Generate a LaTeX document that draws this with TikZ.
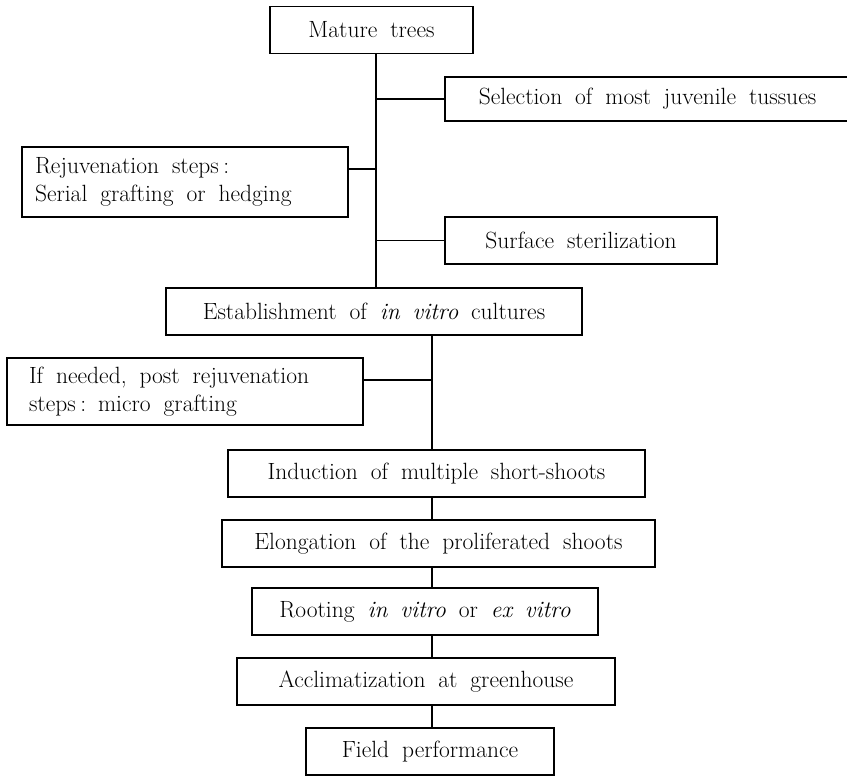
\documentclass[tikz,border=0pt]{standalone}
\usepackage{tikz}
\usetikzlibrary{calc, positioning}

\newcommand{\boxfont}{\fontsize{23.5}{28}\selectfont}
\newcommand{\widespace}{\spaceskip=0.55em plus 0.1em minus 0.05em\relax}

\begin{document}
\begin{tikzpicture}[x=1pt, y=-1pt, line width=1.2pt,
        box/.style={draw, rectangle, inner sep=0pt, minimum height=47pt, font=\boxfont, execute at begin node=\widespace},
        note/.style={box, align=left}]
    \useasboundingbox (0,0) rectangle (847,776);
    % upper part
    \node[box, minimum width=203pt] (mt) at (371.5, 30) {Mature trees};
    \node[box, minimum width=405pt, minimum height=44pt] (sel) at (647.5, 99) {Selection of most juvenile tussues};
    \node[note, text width=300pt, inner xsep=13pt, minimum height=70pt] (rej) at (185, 182) {Rejuvenation steps\hspace{0.2em}:\\Serial grafting or hedging};
    \node[box, minimum width=272pt] (sur) at (581, 240.5) {Surface sterilization};
    \node[box, minimum width=416pt] (est) at (374, 311.5) {Establishment of \textit{in vitro} cultures};
    % lower part
    \node[note, text width=312pt, inner xsep=22pt, minimum height=67pt] (ifn) at (185, 391.5) {If needed, post rejuvenation\\steps\hspace{0.2em}: micro grafting};
    \node[box, minimum width=417pt] (ind) at (436.5, 473.5) {Induction of multiple short-shoots};
    \node[box, minimum width=433pt] (elo) at (438.5, 543.5) {Elongation of the proliferated shoots};
    \node[box, minimum width=346pt] (roo) at (425, 611.5) {Rooting \textit{in vitro} or \textit{ex vitro}};
    \node[box, minimum width=378pt] (acc) at (426, 681.5) {Acclimatization at greenhouse};
    \node[box, minimum width=248pt] (fld) at (430, 751.5) {Field performance};
    \coordinate (t1) at (376, 0);
    \coordinate (t2) at (432, 0);
    \coordinate (j1) at (376, 169);
    \coordinate (j2) at (432, 380);
    \draw
    (mt.south -| t1) -- (est.north -| t1)
    (sel.west) -- (sel.west -| t1)
    (rej.east |- j1) -- (j1)
    (sur.west) -- (sur.west -| t1)
    (est.south -| t2) -- (ind.north -| t2)
    (ifn.east |- j2) -- (j2);
    \foreach \a/\b in {ind/elo, elo/roo, roo/acc, acc/fld}
        \draw (\a.south -| t2) -- (\b.north -| t2);
\end{tikzpicture}
\end{document}
